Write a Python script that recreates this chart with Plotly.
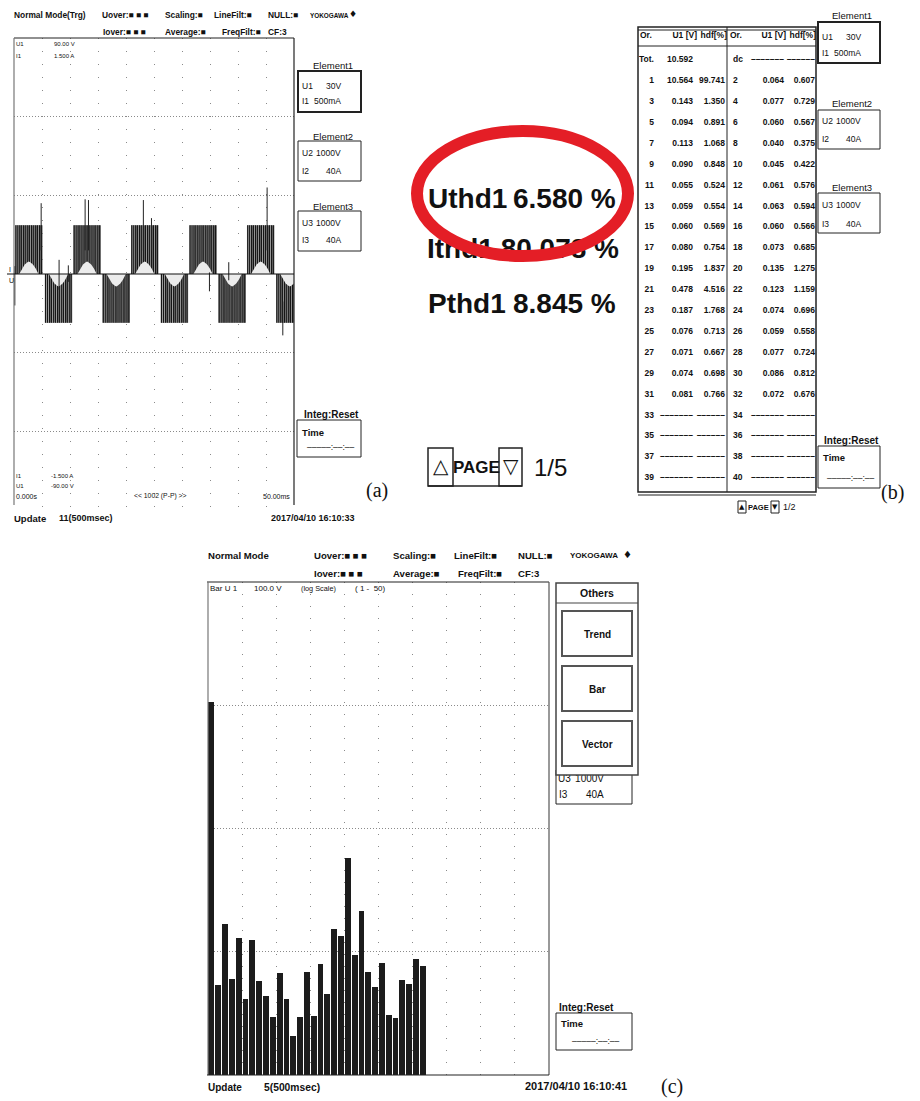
import plotly.graph_objects as go

FONT = "Liberation Sans, Arial, sans-serif"
SYM = "DejaVu Sans, sans-serif"
SERIF = "Liberation Serif, Times New Roman, serif"
NB = "\u00a0"

# ---------------- Panel (a): waveform (units: ms / divisions) ----------------
pos_block_start_ms = [0.2, 10.6, 20.9, 31.3, 41.6]
neg_block_start_ms = [5.5, 15.8, 26.2, 36.5, 46.8]
block_width_ms = 4.9
pulse_level_div = 0.62
pulse_frac_dark = [0.03, 0.10, 0.17, 0.24, 0.31, 0.39, 0.46, 0.53, 0.60, 0.68, 0.75, 0.82, 0.89, 0.96]
pulse_frac_light = [0.065, 0.135, 0.28, 0.43, 0.57, 0.72, 0.86]
hump_frac = [0.15, 0.25, 0.35, 0.45, 0.50, 0.55, 0.65, 0.75, 0.85]
hump_div = [0.0, 0.07, 0.12, 0.15, 0.16, 0.15, 0.12, 0.07, 0.0]
spike_t_ms = [0.15, 4.85, 8.05, 9.7, 12.7, 13.3, 23.1, 24.55, 34.9, 38.35, 45.2, 48.0]
spike_lo_div = [-0.40, 0.30, -0.20, -0.10, 0.30, 0.30, 0.30, 0.30, -0.22, -0.08, 0.30, -0.78]
spike_hi_div = [0.10, 0.90, 0.18, 0.11, 0.95, 0.94, 0.94, 0.71, 0.02, 0.15, 1.10, -0.35]

# ---------------- Panel (b): harmonic table ----------------
odd_orders = ["1", "3", "5", "7", "9", "11", "13", "15", "17", "19", "21", "23", "25", "27", "29", "31",
              "33", "35", "37", "39"]
odd_u1 = ["10.564", "0.143", "0.094", "0.113", "0.090", "0.055", "0.059", "0.060", "0.080", "0.195",
          "0.478", "0.187", "0.076", "0.071", "0.074", "0.081"]
odd_hdf = ["99.741", "1.350", "0.891", "1.068", "0.848", "0.524", "0.554", "0.569", "0.754", "1.837",
           "4.516", "1.768", "0.713", "0.667", "0.698", "0.766"]
even_orders = ["2", "4", "6", "8", "10", "12", "14", "16", "18", "20", "22", "24", "26", "28", "30", "32",
               "34", "36", "38", "40"]
even_u1 = ["0.064", "0.077", "0.060", "0.040", "0.045", "0.061", "0.063", "0.060", "0.073", "0.135",
           "0.123", "0.074", "0.059", "0.077", "0.086", "0.072"]
even_hdf = ["0.607", "0.729", "0.567", "0.375", "0.422", "0.576", "0.594", "0.566", "0.685", "1.275",
            "1.159", "0.696", "0.558", "0.724", "0.812", "0.676"]
total_u1 = "10.592"
thd_labels = ["Uthd1", "Ithd1", "Pthd1"]
thd_values = ["6.580 %", "80.078 %", "8.845 %"]

# ---------------- Panel (c): harmonic bar graph (log scale) ----------------
bar_orders = list(range(1, 33))
bar_u1_v = [10.6, 0.054, 0.169, 0.060, 0.130, 0.0415, 0.125, 0.058, 0.044, 0.0296,
            0.0675, 0.0415, 0.0207, 0.0296, 0.0688, 0.030, 0.080, 0.0456, 0.154, 0.135,
            0.581, 0.0946, 0.215, 0.0688, 0.0519, 0.0814, 0.0308, 0.029, 0.0592, 0.055,
            0.0877, 0.0769]

W, H = 920, 1101
fig = go.Figure()

# ---- waveform traces
fill_x, fill_y, dark_x, dark_y, light_x, light_y, hump_x, hump_y = [], [], [], [], [], [], [], []
blocks = [(s, 1) for s in pos_block_start_ms] + [(s, -1) for s in neg_block_start_ms]
for s, sg in blocks:
    e = s + block_width_ms
    L = sg * pulse_level_div
    fill_x += [s, s, e, e, s, None]
    fill_y += [0, L, L, 0, 0, None]
    for f in pulse_frac_dark:
        t = s + f * block_width_ms
        dark_x += [t, t, None]
        dark_y += [0, L, None]
    for f in pulse_frac_light:
        t = s + f * block_width_ms
        light_x += [t, t, None]
        light_y += [0, L, None]
    hump_x += [s + f * block_width_ms for f in hump_frac] + [None]
    hump_y += [sg * v for v in hump_div] + [None]

fig.add_trace(go.Scatter(x=fill_x, y=fill_y, mode="lines", fill="toself", fillcolor="#7d7d7d",
                         line=dict(width=0), xaxis="x", yaxis="y", hoverinfo="skip"))
fig.add_trace(go.Scatter(x=light_x, y=light_y, mode="lines", line=dict(color="#cfcfcf", width=1),
                         xaxis="x", yaxis="y", hoverinfo="skip"))
fig.add_trace(go.Scatter(x=dark_x, y=dark_y, mode="lines", line=dict(color="#151515", width=1.2),
                         xaxis="x", yaxis="y", hoverinfo="skip"))
fig.add_trace(go.Scatter(x=hump_x, y=hump_y, mode="lines", fill="toself", fillcolor="#ececec",
                         line=dict(width=0), xaxis="x", yaxis="y", hoverinfo="skip"))
sp_x, sp_y = [], []
for t, lo, hi in zip(spike_t_ms, spike_lo_div, spike_hi_div):
    sp_x += [t, t, None]
    sp_y += [lo, hi, None]
fig.add_trace(go.Scatter(x=sp_x, y=sp_y, mode="lines", line=dict(color="#222222", width=1),
                         xaxis="x", yaxis="y", hoverinfo="skip"))

# ---- bar graph
fig.add_trace(go.Bar(x=bar_orders, y=bar_u1_v, width=0.86, marker=dict(color="#1c1c1c", line=dict(width=0)),
                     xaxis="x2", yaxis="y2", hoverinfo="skip"))

# ---- table text traces (pixel axis x3/y3)
row_y0, row_step = 81, 20.9
rows_y = [row_y0 + i * row_step for i in range(20)]
tf = dict(family=FONT, size=8.5, color="#111111", weight="bold")


def col(xs, ys, texts, pos, font=tf):
    fig.add_trace(go.Scatter(x=xs, y=ys, text=texts, mode="text", textposition=pos, textfont=font,
                             xaxis="x3", yaxis="y3", hoverinfo="skip"))


n_data = len(odd_u1)
dash_u, dash_h = "–" * 7, "–" * 6
col([654] * 20, rows_y, odd_orders, "middle left")
col([693] * 20, rows_y, odd_u1 + [dash_u] * (20 - n_data), "middle left")
col([725] * 20, rows_y, odd_hdf + [dash_h] * (20 - n_data), "middle left")
col([733] * 20, rows_y, even_orders, "middle right")
col([784] * 20, rows_y, even_u1 + [dash_u] * (20 - n_data), "middle left")
col([815] * 20, rows_y, even_hdf + [dash_h] * (20 - n_data), "middle left")
col([639, 693, 733, 784, 815], [60] * 5, ["Tot.", total_u1, "dc", dash_u, dash_h],
    ["middle right", "middle left", "middle right", "middle left", "middle left"])
col([640, 697, 727, 730, 786, 816], [36] * 6, ["Or.", "U1 [V]", "hdf[%]", "Or.", "U1 [V]", "hdf[%]"],
    ["middle right", "middle left", "middle left", "middle right", "middle left", "middle left"])

# Ithd1 line partly hidden under the red ellipse -> drawn as trace (below shapes)
big = dict(family=FONT, size=28, color="#111111", weight="bold")
fig.add_trace(go.Scatter(x=[427, 619], y=[251, 251], text=[thd_labels[1], thd_values[1]], mode="text",
                         textposition=["middle right", "middle left"], textfont=big,
                         xaxis="x3", yaxis="y3", hoverinfo="skip"))
# partially hidden Element3 text in panel (c)
col([558, 604], [779, 779], ["U3", "1000V"], ["middle right", "middle left"],
    dict(family=FONT, size=10, color="#111111"))

# ---------------- shapes & annotations ----------------
shapes, ann = [], []


def rect(x0, y0, x1, y1, w=1, color="#222222", fill=None, layer="above"):
    shapes.append(dict(type="rect", xref="x3", yref="y3", x0=x0, y0=y0, x1=x1, y1=y1, layer=layer,
                       line=dict(color=color, width=w), fillcolor=fill if fill else "rgba(0,0,0,0)"))


def line(x0, y0, x1, y1, w=1, color="#222222"):
    shapes.append(dict(type="line", xref="x3", yref="y3", x0=x0, y0=y0, x1=x1, y1=y1,
                       line=dict(color=color, width=w)))


def txt(x, y, s, size=9, xa="left", family=FONT, weight="normal", color="#111111"):
    ann.append(dict(x=x, y=y, xref="x3", yref="y3", text=s, showarrow=False, xanchor=xa, yanchor="middle",
                    borderpad=0, font=dict(family=family, size=size, color=color, weight=weight)))


SQ3 = "■" + NB + "■" + NB + "■"
# ---- panel (a) header
for (x, y, s) in [(13, 15, "Normal Mode(Trg)"), (101, 15, "Uover:" + SQ3),
                  (164, 15, "Scaling:■"), (213, 15, "LineFilt:■"), (267, 15, "NULL:■"),
                  (102, 32, "Iover:" + SQ3), (164, 32, "Average:■"),
                  (221, 32, "FreqFilt:■"), (267, 32, "CF:3")]:
    txt(x, y, s, 8.4, weight="bold")
txt(309, 15, "YOKOGAWA", 6.4, weight="bold")
txt(353, 14, "♦", 9, xa="center", family=SYM)

# panel (a) frame
line(14, 38, 294, 38, 1.2)
line(14, 38, 14, 505, 1.2, "#777777")
line(294, 38, 294, 505, 1.2)
line(7, 274, 294, 274, 1.2, "#111111")
txt(8, 269, "I", 7)
txt(8, 280, "U", 7)
for (x, y, s) in [(15, 44, "U1"), (53, 44, "90.00 V"), (15, 56, "I1"), (53, 56, "1.500 A"),
                  (15, 476, "I1"), (50, 476, "-1.500 A"), (15, 486, "U1"), (50, 486, "-90.00 V")]:
    txt(x, y, s, 6)
txt(15, 496, "0.000s", 7)
txt(133, 496, "<< 1002 (P-P) >>", 6.8)
txt(291, 496, "50.00ms", 7, xa="right")
txt(13, 518, "Update", 9.5, weight="bold")
txt(58, 518, "11(500msec)", 9, weight="bold")
txt(356, 518, "2017/04/10 16:10:33", 9, xa="right", weight="bold")
txt(365, 490, "(a)", 20, family=SERIF)

# element boxes for panels (a) and (b)
for (x0, x1, ty, by0, by1, name, la, va, y1, lb, vb, y2, w) in [
        (298, 361, 65, 71, 112, "Element1", "U1", "30V", 86, "I1", "500mA", 101, 2),
        (298, 361, 136, 141, 181, "Element2", "U2", "1000V", 153, "I2", "40A", 171, 1),
        (298, 361, 206, 211, 251, "Element3", "U3", "1000V", 223, "I3", "40A", 240, 1),
        (818, 880, 15, 22, 63, "Element1", "U1", "30V", 37, "I1", "500mA", 53, 2),
        (818, 880, 103, 110, 149, "Element2", "U2", "1000V", 121, "I2", "40A", 139, 1),
        (818, 880, 187, 193, 233, "Element3", "U3", "1000V", 205, "I3", "40A", 224, 1)]:
    txt((x0 + x1) / 2 + 3, ty, name, 9.5, xa="center")
    rect(x0, by0, x1, by1, w)
    txt(x0 + 3, y1, la, 8.5)
    txt(x0 + 44, y1, va, 8.5, xa="right")
    txt(x0 + 3, y2, lb, 8.5)
    txt(x0 + 44, y2, vb, 8.5, xa="right")

for (x0, x1, tx, ty, by0, by1, yt, yd) in [(297, 361, 303, 414, 420, 457, 432, 447),
                                           (818, 880, 823, 440, 446, 488, 457, 478),
                                           (556, 632, 558, 1007, 1013, 1050, 1023, 1041)]:
    txt(tx, ty, "Integ:Reset", 10, weight="bold")
    rect(x0, by0, x1, by1, 1)
    txt(x0 + 4, yt, "Time", 9.5, weight="bold")
    txt((x0 + x1) / 2 + 2, yd, "–––––:––:––", 8.5, xa="center")

# ---- panel (b) middle
txt(427, 198, thd_labels[0], 28, weight="bold")
txt(617, 198, thd_values[0], 28, xa="right", weight="bold")
txt(427, 303, thd_labels[2], 28, weight="bold")
txt(617, 303, thd_values[2], 28, xa="right", weight="bold")
shapes.append(dict(type="circle", xref="x3", yref="y3", x0=417, y0=131, x1=628, y1=256, layer="above",
                   line=dict(color="#e41e26", width=12)))
rect(428, 448, 453, 486, 1.5)
rect(499, 448, 522, 486, 1.5)
line(428, 486, 522, 486, 1.5)
txt(440.5, 466, "△", 20, xa="center", family=SYM)
txt(476, 467, "PAGE", 17, xa="center", weight="bold")
txt(510.5, 466, "▽", 20, xa="center", family=SYM)
txt(550, 467, "1/5", 24, xa="center")

# ---- panel (b) table frame
rect(638, 27, 816, 492, 1.5)
line(638, 30, 816, 30, 1)
line(638, 46, 816, 46, 1)
line(727, 27, 727, 492, 1)
line(638, 495, 816, 495, 1)
rect(738, 501, 746, 513, 1)
rect(771, 501, 779, 513, 1)
txt(742, 507, "▲", 7, xa="center", family=SYM)
txt(758.5, 507, "PAGE", 7.5, xa="center", weight="bold")
txt(775, 507, "▼", 7, xa="center", family=SYM)
txt(782, 507, "1/2", 9)
txt(880, 492, "(b)", 20, family=SERIF)

# ---- panel (c) header
for (x, y, s) in [(207, 555, "Normal Mode"), (313, 555, "Uover:" + SQ3),
                  (392, 555, "Scaling:■"), (453, 555, "LineFilt:■"), (517, 555, "NULL:■"),
                  (313, 573, "Iover:" + SQ3), (392, 573, "Average:■"),
                  (457, 573, "FreqFilt:■"), (517, 573, "CF:3")]:
    txt(x, y, s, 9.6, weight="bold")
txt(569, 555, "YOKOGAWA", 8.0, weight="bold")
txt(627, 554, "♦", 10, xa="center", family=SYM)

line(207, 582, 549, 582, 1.2)
line(208, 582, 208, 1075, 1.2, "#777777")
line(549, 582, 549, 1075, 1.2, "#555555")
line(207, 1075, 549, 1075, 1.2)
txt(209, 588, "Bar U 1", 8)
txt(253, 588, "100.0 V", 8)
txt(300, 588, "(log Scale)", 7.3)
txt(354, 588, "( 1 -  50)", 8)
txt(207, 1087, "Update", 10, weight="bold")
txt(263, 1087, "5(500msec)", 10.3, weight="bold")
txt(628, 1086, "2017/04/10 16:10:41", 11, xa="right", weight="bold")
txt(660, 1086, "(c)", 20, family=SERIF)

# Others menu
rect(556, 770, 632, 804, 1)
txt(558, 794, "I3", 10)
txt(605, 794, "40A", 10, xa="right")
rect(556, 583, 638, 775, 1.5, "#444444", fill="#ffffff")
line(556, 603, 638, 603, 1.2, "#444444")
txt(597, 593, "Others", 10.5, xa="center", weight="bold")
for (y0, y1, s) in [(611, 656, "Trend"), (666, 711, "Bar"), (721, 766, "Vector")]:
    rect(562, y0, 632, y1, 2, "#555555")
    txt(597, (y0 + y1) / 2 + 1, s, 10, xa="center", weight="bold")

# ---------------- layout ----------------
grid_c = "#8a8a8a"
fig.update_layout(
    width=W, height=H, margin=dict(l=0, r=0, t=0, b=0), showlegend=False,
    paper_bgcolor="#ffffff", plot_bgcolor="rgba(0,0,0,0)", bargap=0,
    xaxis=dict(domain=[14 / W, 294 / W], range=[0, 50], tickvals=[5, 10, 15, 20, 25, 30, 35, 40, 45],
               showgrid=True, gridcolor=grid_c, griddash="1px,12px", gridwidth=1, showticklabels=False,
               ticks="", zeroline=False, showline=False, anchor="y", fixedrange=True),
    yaxis=dict(domain=[1 - 510 / H, 1 - 38 / H], range=[-3, 3], tickvals=[-2, -1, 1, 2],
               showgrid=True, gridcolor=grid_c, griddash="1px,2px", gridwidth=1, showticklabels=False,
               ticks="", zeroline=False, showline=False, anchor="x", fixedrange=True),
    xaxis2=dict(domain=[208 / W, 549 / W], range=[0.5, 50.5],
                tickvals=[5.5, 10.5, 15.5, 20.5, 25.5, 30.5, 35.5, 40.5, 45.5],
                showgrid=True, gridcolor=grid_c, griddash="1px,11px", gridwidth=1, showticklabels=False,
                ticks="", zeroline=False, showline=False, anchor="y2", fixedrange=True),
    yaxis2=dict(type="log", domain=[1 - 1075 / H, 1 - 582 / H], range=[-2, 2], tickvals=[0.1, 1, 10],
                showgrid=True, gridcolor=grid_c, griddash="1px,2px", gridwidth=1, showticklabels=False,
                ticks="", zeroline=False, showline=False, anchor="x2", fixedrange=True),
    xaxis3=dict(domain=[0, 1], range=[0, W], visible=False, anchor="y3", fixedrange=True),
    yaxis3=dict(domain=[0, 1], range=[H, 0], visible=False, anchor="x3", fixedrange=True),
    shapes=shapes, annotations=ann,
)

fig.write_html("out.html", config={"displayModeBar": False},
               post_script="document.body.style.margin='0px';")
